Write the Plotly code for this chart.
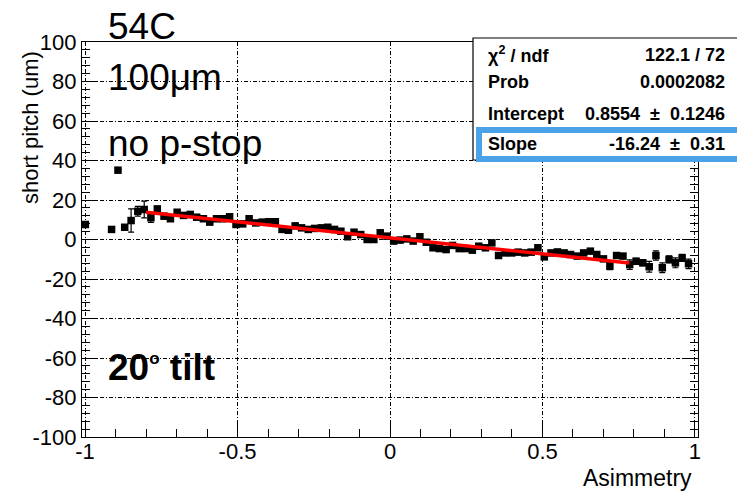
import plotly.graph_objects as go

# ---------------- data ----------------
asym = [-0.999, -0.913, -0.892, -0.870, -0.849, -0.827, -0.806, -0.784, -0.763, -0.741,
        -0.720, -0.698, -0.677, -0.655, -0.634, -0.612, -0.591, -0.569, -0.548, -0.526,
        -0.505, -0.483, -0.462, -0.440, -0.419, -0.397, -0.376, -0.354, -0.333, -0.311,
        -0.290, -0.268, -0.247, -0.225, -0.204, -0.182, -0.161, -0.139, -0.118, -0.096,
        -0.075, -0.053, -0.032, -0.010, 0.012, 0.033, 0.055, 0.076, 0.098, 0.119,
        0.141, 0.162, 0.184, 0.205, 0.227, 0.248, 0.270, 0.291, 0.313, 0.334,
        0.356, 0.377, 0.399, 0.420, 0.442, 0.463, 0.485, 0.506, 0.528, 0.549,
        0.571, 0.592, 0.614, 0.635, 0.657, 0.678, 0.700, 0.721, 0.743, 0.764,
        0.786, 0.807, 0.829, 0.850, 0.872, 0.893, 0.915, 0.936, 0.958, 0.979]
pitch = [7.6, 5.1, 35.1, 6.2, 9.6, 14.3, 15.2, 11.0, 15.5, 11.8,
         10.5, 13.8, 12.2, 12.7, 11.3, 10.5, 8.8, 10.5, 10.5, 11.5,
         7.6, 7.9, 10.5, 8.4, 8.8, 9.0, 9.0, 5.1, 4.7, 6.9,
         5.9, 5.1, 5.6, 5.9, 6.2, 5.1, 4.2, 1.4, 3.7, 2.5,
         0.0, 0.0, 3.4, 1.7, -0.8, -0.3, 0.3, -0.8, 1.4, -1.4,
         -4.2, -4.6, -5.1, -3.0, -4.6, -4.6, -5.4, -3.4, -4.2, -1.7,
         -8.1, -6.8, -6.8, -6.4, -6.8, -6.4, -4.2, -8.8, -6.8, -6.3,
         -6.8, -7.6, -8.4, -6.8, -5.9, -7.6, -9.8, -13.5, -8.1, -8.4,
         -12.7, -11.0, -11.8, -13.8, -8.1, -14.3, -10.1, -11.8, -9.3, -12.3]
pitch_err = [1.0, 1.0, 1.0, 1.0, 5.9, 2.5, 4.2, 2.3, 1.0, 0.9,
             0.9, 0.9, 0.9, 0.9, 0.9, 0.9, 0.9, 0.9, 0.9, 0.9,
             0.9, 0.9, 0.9, 0.9, 0.9, 0.9, 0.9, 0.9, 0.9, 0.9,
             0.9, 0.9, 0.9, 0.9, 0.9, 0.9, 0.9, 0.9, 0.9, 0.9,
             0.9, 0.9, 0.9, 0.9, 0.9, 0.9, 0.9, 0.9, 0.9, 0.9,
             0.9, 0.9, 0.9, 0.9, 0.9, 0.9, 0.9, 0.9, 0.9, 0.9,
             0.9, 0.9, 0.9, 0.9, 0.9, 0.9, 0.9, 0.9, 0.9, 0.9,
             0.9, 0.9, 0.9, 0.9, 0.9, 0.9, 0.9, 1.8, 1.0, 1.0,
             2.4, 1.5, 1.5, 2.7, 2.3, 2.5, 1.8, 2.5, 1.8, 2.4]

fit_range = [-0.80, 0.785]
fit_intercept = 0.8554
fit_slope = -16.24

x_ticks = [-1, -0.5, 0, 0.5, 1]
x_ticklabels = ["-1", "-0.5", "0", "0.5", "1"]
y_ticks = [-100, -80, -60, -40, -20, 0, 20, 40, 60, 80, 100]
y_ticklabels = ["-100", "-80", "-60", "-40", "-20", "0", "20", "40", "60", "80", "100"]

stats_labels = ["\u03c7<sup>2</sup> / ndf", "Prob", "Intercept", "Slope"]
stats_values = ["122.1 / 72", "0.0002082", "0.8554 \u00a0\u00b1\u00a0 0.1246", "-16.24 \u00a0\u00b1\u00a0 0.31"]

# ---------------- layout geometry (pixels) ----------------
W, H = 737, 492
L, R, T, B = 82, 698, 42, 437


def fx(p):
    return (p - L) / (R - L)


def fy(p):
    return (B - p) / (B - T)


FONT = "Liberation Sans, Arial, Helvetica, sans-serif"

fig = go.Figure()

fig.add_trace(go.Scatter(
    x=asym, y=pitch, mode="markers",
    marker=dict(symbol="square", size=7.5, color="black"),
    error_y=dict(type="data", array=pitch_err, color="black", thickness=1.2, width=3),
    showlegend=False, hoverinfo="skip"))

fit_y = [fit_intercept + fit_slope * v for v in fit_range]
fig.add_trace(go.Scatter(
    x=fit_range, y=fit_y, mode="lines",
    line=dict(color="#ff0000", width=3.5),
    showlegend=False, hoverinfo="skip"))

axis_common = dict(
    showline=True, linecolor="black", linewidth=1.2,
    ticks="inside", tickcolor="black", tickwidth=1,
    showgrid=True, gridcolor="black", gridwidth=1, griddash="4px,2px,1px,2px",
    zeroline=False,
    tickfont=dict(family=FONT, size=22, color="black"),
)

fig.update_xaxes(
    range=[-1.01, 1.01], tickvals=x_ticks, ticktext=x_ticklabels, ticklen=17,
    ticklabelstandoff=-6,
    minor=dict(dtick=0.1, tick0=0, ticks="inside", ticklen=8, tickcolor="black", showgrid=False),
    mirror=True, **axis_common)
fig.update_yaxes(
    range=[-100, 100], tickvals=y_ticks, ticktext=y_ticklabels, ticklen=15,
    minor=dict(dtick=4, tick0=0, ticks="inside", ticklen=8, tickcolor="black", showgrid=False),
    mirror="ticks", **axis_common)

shapes = []
# stats box
shapes.append(dict(type="rect", xref="paper", yref="paper", layer="above",
                   x0=fx(473), x1=fx(745), y0=fy(160), y1=fy(38),
                   line=dict(color="black", width=1.2), fillcolor="white"))
# blue highlight around Slope row
shapes.append(dict(type="rect", xref="paper", yref="paper", layer="above",
                   x0=fx(479), x1=fx(745), y0=fy(159), y1=fy(130),
                   line=dict(color="#4aa3e8", width=6), fillcolor="white"))

annotations = []
stats_y = [55, 82, 114, 144]
for lab, val, yy in zip(stats_labels, stats_values, stats_y):
    annotations.append(dict(xref="paper", yref="paper", x=fx(486), y=fy(yy),
                            xanchor="left", yanchor="middle", text="<b>" + lab + "</b>",
                            showarrow=False, font=dict(family=FONT, size=18, color="black")))
    annotations.append(dict(xref="paper", yref="paper", x=fx(727), y=fy(yy),
                            xanchor="right", yanchor="middle", text="<b>" + val + "</b>",
                            showarrow=False, font=dict(family=FONT, size=18, color="black")))

deg = "<sup><span style='font-size:17px'>o</span></sup>"
for txt, yy, bold in [("54C", 26, False), ("100\u03bcm", 77, False),
                      ("no p-stop", 143, False), ("20" + deg + " tilt", 367, True)]:
    annotations.append(dict(xref="paper", yref="paper", x=fx(106), y=fy(yy),
                            xanchor="left", yanchor="middle",
                            text=("<b>" + txt + "</b>") if bold else txt,
                            showarrow=False, font=dict(family=FONT, size=37, color="black")))

annotations.append(dict(xref="paper", yref="paper", x=fx(30), y=fy(128),
                        xanchor="center", yanchor="middle", textangle=-90,
                        text="short pitch (um)", showarrow=False,
                        font=dict(family=FONT, size=22, color="black")))
annotations.append(dict(xref="paper", yref="paper", x=fx(694), y=fy(478),
                        xanchor="right", yanchor="middle",
                        text="Asimmetry", showarrow=False,
                        font=dict(family=FONT, size=23, color="black")))

fig.update_layout(
    width=W, height=H,
    margin=dict(l=L, r=W - R, t=T, b=H - B, pad=0),
    paper_bgcolor="white", plot_bgcolor="white",
    shapes=shapes, annotations=annotations,
    font=dict(family=FONT, color="black"),
)

fig.write_html("out.html")
